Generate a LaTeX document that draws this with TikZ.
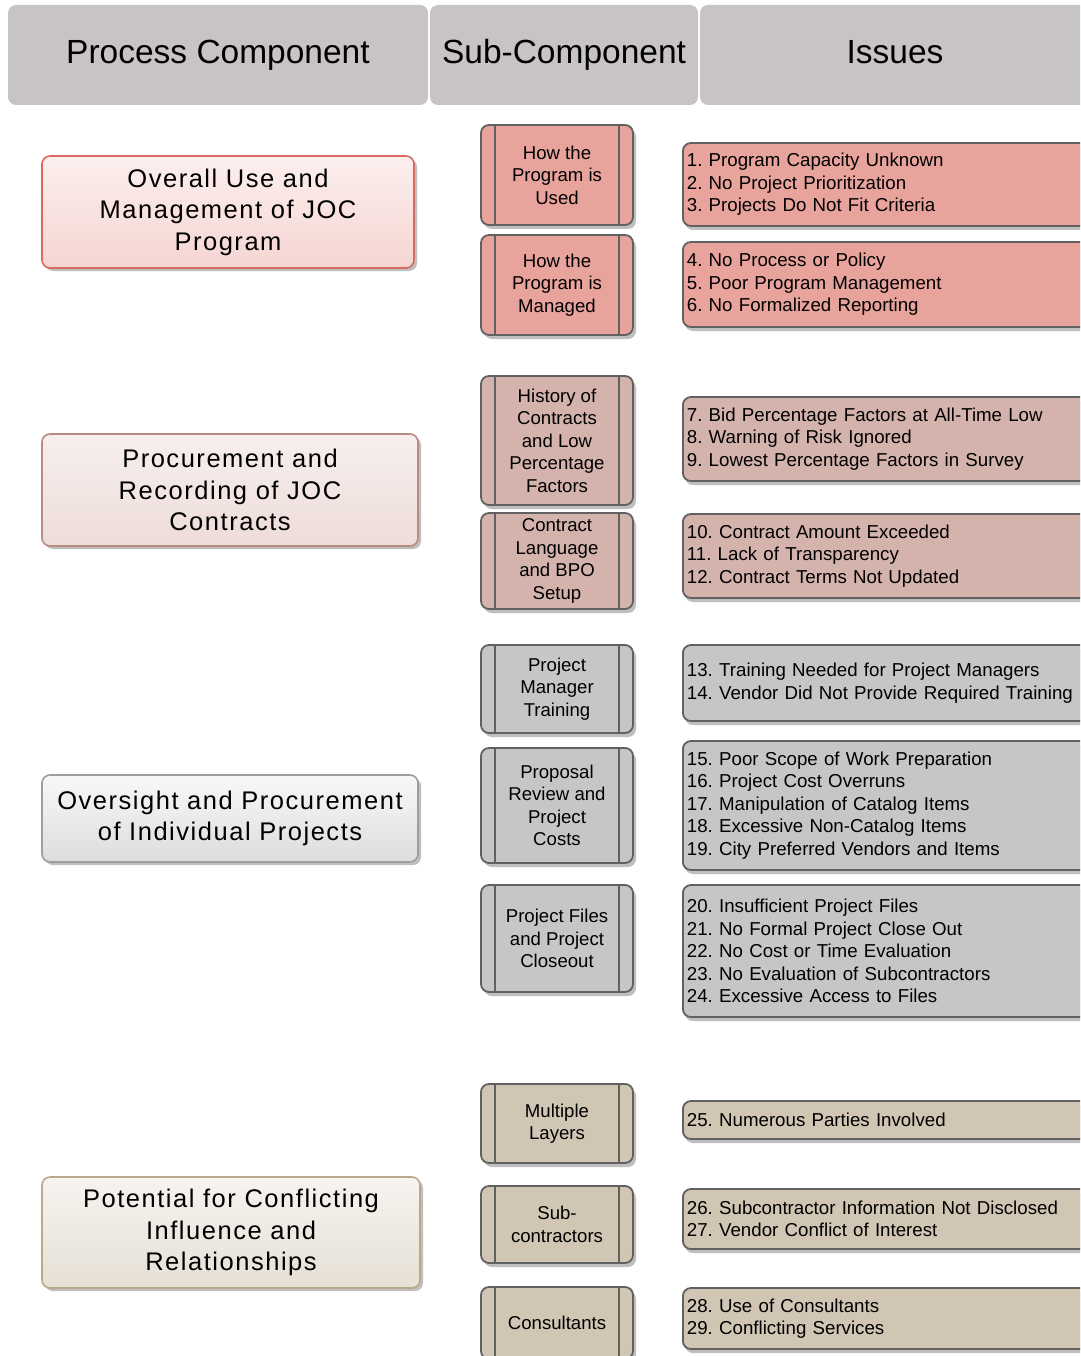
\documentclass[tikz,border=0pt]{standalone}
\usepackage{fontspec}
\setmainfont{Liberation Sans}
\newfontfamily\procfont[LetterSpace=6]{Liberation Sans}
\usetikzlibrary{shadows}
\frenchspacing
\definecolor{hdr}{HTML}{C9C4C4}
\definecolor{edge}{HTML}{616161}
\definecolor{salmon}{HTML}{E8A39D}
\definecolor{dusty}{HTML}{D4B3AD}
\definecolor{grayf}{HTML}{C6C6C6}
\definecolor{tan}{HTML}{D1C6B3}
\definecolor{pAedge}{HTML}{D96A5F}
\definecolor{pAtop}{HTML}{FCEFEE}
\definecolor{pAbot}{HTML}{F5D5D2}
\definecolor{pBedge}{HTML}{B98B81}
\definecolor{pBtop}{HTML}{F6EFEE}
\definecolor{pBbot}{HTML}{EEDCD8}
\definecolor{pCedge}{HTML}{9E9E9E}
\definecolor{pCtop}{HTML}{F8F8F8}
\definecolor{pCbot}{HTML}{DDDDDD}
\definecolor{pDedge}{HTML}{B9A98B}
\definecolor{pDtop}{HTML}{F6F4F0}
\definecolor{pDbot}{HTML}{E6E0D5}
\tikzset{
  hdrbox/.style={rectangle, rounded corners=8pt, fill=hdr, inner sep=0pt,
    minimum height=100pt, text height=24pt, text depth=7pt,
    font=\fontsize{33.5}{40}\selectfont},
  procbox/.style={rectangle, rounded corners=8pt, line width=1.6pt, inner sep=0pt,
    align=center, font=\procfont\fontsize{25.5}{31.5}\selectfont,
    drop shadow={shadow xshift=3pt, shadow yshift=-3pt, fill=black!25, opacity=1}},
  subbox/.style={rectangle, rounded corners=8pt, draw=edge, line width=1.8pt,
    minimum width=152pt, inner sep=0pt, align=center,
    font=\fontsize{18.6}{22.5}\selectfont,
    drop shadow={shadow xshift=3pt, shadow yshift=-4pt, fill=black!25, opacity=1}},
  issuebox/.style={rectangle, rounded corners=8pt, draw=edge, line width=1.8pt,
    anchor=west, text width=412pt, inner xsep=4pt, inner ysep=0pt, align=left,
    font=\fontsize{18.7}{22.5}\selectfont\frenchspacing,
    drop shadow={shadow xshift=2pt, shadow yshift=-4pt, fill=black!25, opacity=1}},
  sideline/.style={draw=edge, line width=1.8pt}
}
\begin{document}
\begin{tikzpicture}[x=1pt,y=-1pt]
\path[use as bounding box, clip] (0,0) rectangle (1080,1356);
\fill[white] (0,0) rectangle (1080,1356);

% headers
\node[hdrbox, minimum width=420pt] (h1) at (218,55) {Process Component};
\node[hdrbox, minimum width=268pt] (h2) at (564,55) {Sub-Component};
\node[hdrbox, minimum width=390pt] (h3) at (895,55) {Issues};

% process components
\node[procbox, draw=pAedge, top color=pAtop, bottom color=pAbot,
  minimum width=372pt, minimum height=112pt] (p1) at (228,212)
  {Overall Use and\\Management of JOC\\Program};
\node[procbox, draw=pBedge, top color=pBtop, bottom color=pBbot,
  minimum width=376pt, minimum height=112pt] (p2) at (230,490)
  {Procurement and\\Recording of JOC\\Contracts};
\node[procbox, draw=pCedge, top color=pCtop, bottom color=pCbot,
  minimum width=376pt, minimum height=87pt] (p3) at (230,818.5)
  {Oversight and Procurement\\of Individual Projects};
\node[procbox, draw=pDedge, top color=pDtop, bottom color=pDbot,
  minimum width=378pt, minimum height=111pt] (p4) at (231,1232.5)
  {Potential for Conflicting\\Influence and\\Relationships};

% sub-components
\node[subbox, fill=salmon, minimum height=100pt] (s1) at (557,175) {How the\\Program is\\Used};
\node[subbox, fill=salmon, minimum height=100pt] (s2) at (557,285) {How the\\Program is\\Managed};
\node[subbox, fill=dusty, minimum height=129pt] (s3) at (557,440.5) {History of\\Contracts\\and Low\\Percentage\\Factors};
\node[subbox, fill=dusty, minimum height=96pt] (s4) at (557,561) {Contract\\Language\\and BPO\\Setup};
\node[subbox, fill=grayf, minimum height=88pt] (s5) at (557,689) {Project\\Manager\\Training};
\node[subbox, fill=grayf, minimum height=115pt] (s6) at (557,805.5) {Proposal\\Review and\\Project\\Costs};
\node[subbox, fill=grayf, minimum height=107pt] (s7) at (557,938.5) {Project Files\\and Project\\Closeout};
\node[subbox, fill=tan, minimum height=79pt] (s8) at (557,1123.5) {Multiple\\Layers};
\node[subbox, fill=tan, minimum height=77pt] (s9) at (557,1224.5) {Sub-\\contractors};
\node[subbox, fill=tan, minimum height=72pt] (s10) at (557,1323) {Consultants};
\foreach \n in {s1,s2,s3,s4,s5,s6,s7,s8,s9,s10}{
  \draw[sideline] ([xshift=15pt]\n.north west) -- ([xshift=15pt]\n.south west);
  \draw[sideline] ([xshift=-15pt]\n.north east) -- ([xshift=-15pt]\n.south east);
}

% issues
\node[issuebox, fill=salmon, minimum height=83pt] (i1) at (682,184.5)
  {1. Program Capacity Unknown\\2. No Project Prioritization\\3. Projects Do Not Fit Criteria};
\node[issuebox, fill=salmon, minimum height=85pt] (i2) at (682,284.5)
  {4. No Process or Policy\\5. Poor Program Management\\6. No Formalized Reporting};
\node[issuebox, fill=dusty, minimum height=84pt] (i3) at (682,439)
  {7. Bid Percentage Factors at All-Time Low\\8. Warning of Risk Ignored\\9. Lowest Percentage Factors in Survey};
\node[issuebox, fill=dusty, minimum height=84pt] (i4) at (682,556)
  {10. Contract Amount Exceeded\\11. Lack of Transparency\\12. Contract Terms Not Updated};
\node[issuebox, fill=grayf, minimum height=76pt] (i5) at (682,683)
  {13. Training Needed for Project Managers\\14. Vendor Did Not Provide Required Training};
\node[issuebox, fill=grayf, minimum height=129pt] (i6) at (682,805.5)
  {15. Poor Scope of Work Preparation\\16. Project Cost Overruns\\17. Manipulation of Catalog Items\\18. Excessive Non-Catalog Items\\19. City Preferred Vendors and Items};
\node[issuebox, fill=grayf, minimum height=132pt] (i7) at (682,951)
  {20. Insufficient Project Files\\21. No Formal Project Close Out\\22. No Cost or Time Evaluation\\23. No Evaluation of Subcontractors\\24. Excessive Access to Files};
\node[issuebox, fill=tan, minimum height=38pt] (i8) at (682,1120)
  {25. Numerous Parties Involved};
\node[issuebox, fill=tan, minimum height=60pt] (i9) at (682,1219)
  {26. Subcontractor Information Not Disclosed\\27. Vendor Conflict of Interest};
\node[issuebox, fill=tan, minimum height=61pt] (i10) at (682,1318.5)
  {28. Use of Consultants\\29. Conflicting Services};
\end{tikzpicture}
\end{document}
